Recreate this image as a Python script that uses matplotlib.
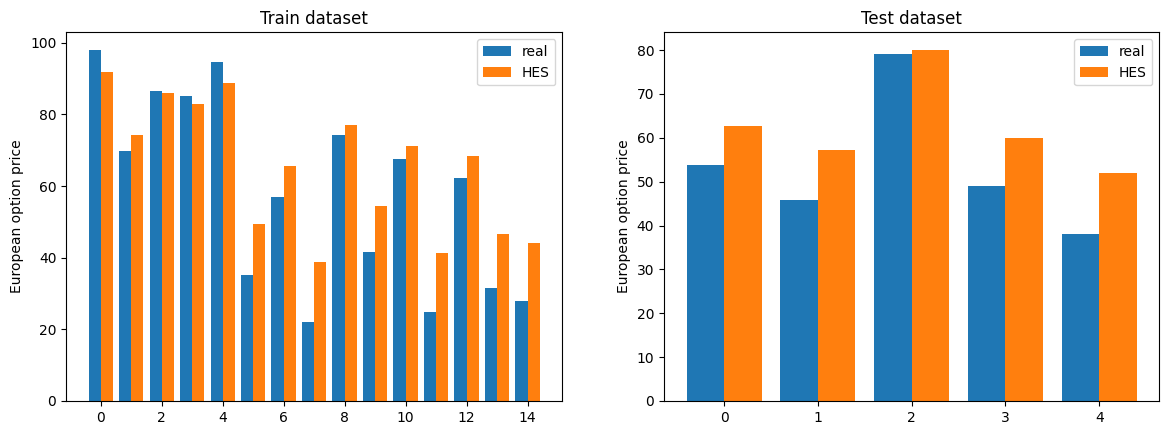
import numpy as np
import matplotlib
matplotlib.use("Agg")
import matplotlib.pyplot as plt

# train set: real prices vs HES model prices
train_real = [98.0, 69.9, 86.5, 85.2, 94.6, 35.1, 57.0, 22.0, 74.3, 41.5, 67.6, 24.8, 62.1, 31.4, 27.8]
train_hes = [91.8, 74.3, 86.0, 82.9, 88.8, 49.3, 65.7, 38.7, 77.1, 54.5, 71.2, 41.2, 68.5, 46.5, 44.0]

# test set
test_real = [53.9, 45.9, 79.15, 49.1, 38.0]
test_hes = [62.8, 57.3, 80.05, 60.0, 51.9]

width = 0.4

fig = plt.figure(figsize=(11.69, 4.36), dpi=100)
ax1 = fig.add_axes([0.0565, 0.0803, 0.4245, 0.8456])
ax2 = fig.add_axes([0.5680, 0.0803, 0.4237, 0.8456])

x = np.arange(len(train_real))
ax1.bar(x - width / 2, train_real, width, label='real')
ax1.bar(x + width / 2, train_hes, width, label='HES')
ax1.set_title('Train dataset')
ax1.set_ylabel('European option price')
ax1.legend()

x = np.arange(len(test_real))
ax2.bar(x - width / 2, test_real, width, label='real')
ax2.bar(x + width / 2, test_hes, width, label='HES')
ax2.set_title('Test dataset')
ax2.set_ylabel('European option price')
ax2.legend()

plt.savefig('out.png', dpi=100)
